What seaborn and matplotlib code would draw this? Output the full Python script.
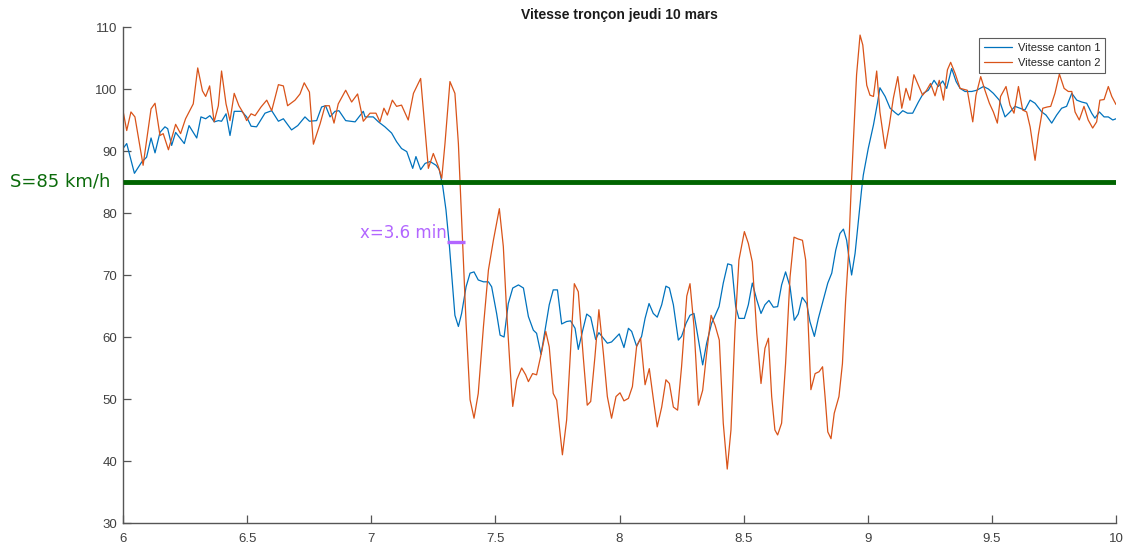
import pandas as pd
import numpy as np
import matplotlib
matplotlib.use("Agg")
import matplotlib.pyplot as plt
import seaborn as sns
from matplotlib.lines import Line2D

# ==============================
# Data
# ==============================
t1 = [6.000, 6.015, 6.046, 6.075, 6.095, 6.113, 6.129, 6.149, 6.169, 6.180,
      6.196, 6.212, 6.247, 6.266, 6.297, 6.314, 6.333, 6.350, 6.368, 6.384,
      6.397, 6.415, 6.431, 6.448, 6.478, 6.498, 6.516, 6.538, 6.572, 6.599,
      6.626, 6.646, 6.679, 6.704, 6.733, 6.751, 6.780, 6.800, 6.816, 6.834,
      6.854, 6.870, 6.897, 6.935, 6.968, 6.975, 7.008, 7.029, 7.055, 7.082,
      7.102, 7.122, 7.143, 7.167, 7.180, 7.199, 7.217, 7.237, 7.261, 7.274,
      7.288, 7.301, 7.315, 7.328, 7.337, 7.351, 7.364, 7.382, 7.398, 7.414,
      7.431, 7.452, 7.472, 7.485, 7.505, 7.519, 7.535, 7.552, 7.570, 7.593,
      7.613, 7.633, 7.653, 7.666, 7.684, 7.700, 7.717, 7.733, 7.750, 7.767,
      7.787, 7.803, 7.821, 7.834, 7.852, 7.868, 7.884, 7.904, 7.917, 7.935,
      7.951, 7.968, 7.999, 8.018, 8.036, 8.049, 8.069, 8.089, 8.103, 8.119,
      8.136, 8.152, 8.170, 8.187, 8.201, 8.217, 8.237, 8.250, 8.268, 8.284,
      8.300, 8.318, 8.335, 8.351, 8.371, 8.389, 8.401, 8.418, 8.436, 8.452,
      8.468, 8.481, 8.503, 8.519, 8.535, 8.553, 8.570, 8.586, 8.602, 8.620,
      8.637, 8.653, 8.669, 8.687, 8.704, 8.720, 8.736, 8.754, 8.767, 8.785,
      8.801, 8.821, 8.839, 8.855, 8.871, 8.888, 8.902, 8.915, 8.922, 8.935,
      8.949, 8.962, 8.975, 8.982, 9.002, 9.023, 9.039, 9.049, 9.070, 9.090,
      9.110, 9.123, 9.141, 9.160, 9.181, 9.204, 9.224, 9.244, 9.267, 9.284,
      9.302, 9.318, 9.338, 9.356, 9.372, 9.392, 9.419, 9.439, 9.466, 9.486,
      9.506, 9.530, 9.553, 9.573, 9.593, 9.613, 9.633, 9.654, 9.674, 9.701,
      9.718, 9.741, 9.761, 9.781, 9.801, 9.822, 9.842, 9.862, 9.882, 9.902,
      9.915, 9.933, 9.952, 9.969, 9.987, 10.000]
v1 = [90.4, 91.2, 86.4, 88.2, 89.0, 92.1, 89.7, 93.0, 93.9, 93.6,
      90.9, 93.0, 91.2, 94.1, 92.1, 95.5, 95.2, 95.7, 94.7, 94.9,
      94.8, 96.0, 92.5, 96.4, 96.4, 95.5, 94.0, 93.9, 96.1, 96.5,
      94.8, 95.2, 93.4, 94.1, 95.5, 94.8, 94.9, 97.1, 97.3, 95.5,
      96.4, 96.5, 94.9, 94.7, 96.4, 95.5, 95.5, 94.7, 93.9, 92.9,
      91.5, 90.4, 89.9, 87.2, 89.1, 87.0, 88.0, 88.3, 87.7, 87.0,
      84.3, 80.5, 74.6, 68.1, 63.5, 61.7, 63.8, 68.1, 70.3, 70.5,
      69.2, 68.9, 68.9, 68.1, 63.8, 60.3, 60.0, 65.4, 67.9, 68.4,
      67.9, 63.3, 61.1, 60.6, 57.2, 61.1, 65.2, 67.6, 67.6, 62.1,
      62.5, 62.6, 61.4, 58.0, 61.1, 63.7, 63.2, 59.6, 60.7, 59.8,
      59.0, 59.2, 60.5, 58.3, 61.4, 60.9, 58.5, 60.1, 63.0, 65.4,
      63.8, 63.2, 65.2, 68.2, 67.9, 65.2, 59.5, 60.1, 62.2, 63.5,
      63.8, 59.5, 55.5, 59.0, 62.2, 63.8, 64.9, 68.7, 71.8, 71.6,
      64.9, 63.0, 63.0, 65.2, 68.7, 66.0, 63.8, 65.2, 65.9, 64.8,
      64.9, 68.4, 70.5, 68.1, 62.7, 63.7, 66.4, 65.4, 62.5, 60.1,
      63.0, 66.0, 68.7, 70.3, 74.0, 76.7, 77.4, 75.6, 73.5, 70.0,
      73.5, 78.6, 83.7, 86.1, 90.4, 94.2, 97.7, 100.2, 98.8, 96.9,
      96.2, 95.8, 96.5, 96.1, 96.1, 97.9, 99.3, 99.8, 101.4, 100.4,
      101.3, 100.1, 103.3, 101.2, 100.1, 99.6, 99.6, 99.8, 100.4, 100.0,
      99.3, 98.2, 95.5, 96.3, 97.2, 96.9, 96.6, 98.2, 97.7, 96.3,
      95.8, 94.5, 95.8, 96.9, 97.2, 99.3, 98.2, 97.9, 97.7, 96.1,
      95.3, 96.3, 95.5, 95.5, 95.0, 95.2]

t2 = [6.000, 6.015, 6.032, 6.048, 6.081, 6.113, 6.129, 6.149, 6.162, 6.183,
      6.212, 6.232, 6.252, 6.283, 6.301, 6.320, 6.333, 6.349, 6.367, 6.384,
      6.397, 6.415, 6.431, 6.448, 6.467, 6.485, 6.498, 6.516, 6.532, 6.556,
      6.579, 6.599, 6.626, 6.646, 6.663, 6.693, 6.713, 6.730, 6.751, 6.767,
      6.794, 6.814, 6.831, 6.850, 6.867, 6.897, 6.921, 6.945, 6.968, 6.995,
      7.019, 7.035, 7.051, 7.065, 7.085, 7.102, 7.122, 7.149, 7.170, 7.199,
      7.230, 7.250, 7.270, 7.284, 7.297, 7.317, 7.337, 7.351, 7.364, 7.382,
      7.398, 7.414, 7.431, 7.452, 7.472, 7.492, 7.516, 7.532, 7.545, 7.559,
      7.570, 7.586, 7.606, 7.622, 7.633, 7.650, 7.666, 7.682, 7.703, 7.717,
      7.733, 7.747, 7.758, 7.770, 7.787, 7.803, 7.818, 7.834, 7.854, 7.870,
      7.884, 7.901, 7.917, 7.935, 7.951, 7.968, 7.986, 8.002, 8.018, 8.036,
      8.052, 8.069, 8.085, 8.103, 8.120, 8.136, 8.152, 8.170, 8.187, 8.201,
      8.217, 8.234, 8.250, 8.271, 8.284, 8.300, 8.318, 8.335, 8.351, 8.369,
      8.385, 8.402, 8.418, 8.434, 8.449, 8.465, 8.481, 8.503, 8.519, 8.535,
      8.553, 8.570, 8.586, 8.600, 8.613, 8.626, 8.637, 8.653, 8.669, 8.687,
      8.703, 8.720, 8.737, 8.750, 8.761, 8.771, 8.788, 8.804, 8.818, 8.828,
      8.839, 8.852, 8.865, 8.884, 8.898, 8.911, 8.922, 8.933, 8.942, 8.955,
      8.969, 8.980, 8.996, 9.009, 9.023, 9.036, 9.049, 9.070, 9.087, 9.103,
      9.121, 9.137, 9.154, 9.170, 9.186, 9.204, 9.221, 9.237, 9.253, 9.271,
      9.288, 9.305, 9.321, 9.334, 9.352, 9.372, 9.401, 9.423, 9.436, 9.455,
      9.472, 9.490, 9.506, 9.522, 9.535, 9.557, 9.573, 9.589, 9.607, 9.624,
      9.640, 9.654, 9.664, 9.674, 9.687, 9.705, 9.723, 9.737, 9.754, 9.772,
      9.791, 9.808, 9.822, 9.835, 9.852, 9.871, 9.888, 9.906, 9.922, 9.935,
      9.952, 9.969, 9.983, 10.000]
v2 = [96.5, 93.3, 96.3, 95.5, 87.7, 96.8, 97.7, 92.5, 92.8, 90.2,
      94.3, 92.8, 95.2, 97.6, 103.4, 99.7, 98.8, 100.5, 94.7, 97.3,
      102.9, 97.6, 94.9, 99.3, 97.3, 96.1, 94.9, 96.0, 95.7, 97.1,
      98.2, 96.5, 100.7, 100.5, 97.3, 98.2, 99.2, 101.0, 99.5, 91.1,
      94.4, 97.3, 97.3, 94.5, 97.6, 99.8, 97.9, 99.2, 94.8, 96.1,
      96.1, 94.7, 96.9, 95.8, 98.2, 97.2, 97.4, 95.0, 99.3, 101.7,
      87.2, 89.6, 87.5, 85.6, 91.2, 101.2, 99.3, 91.2, 78.9, 62.2,
      49.9, 46.9, 50.9, 61.7, 70.8, 75.6, 80.7, 74.6, 64.4, 55.2,
      48.8, 53.1, 55.0, 53.9, 52.8, 54.1, 53.9, 56.8, 60.9, 58.4,
      50.9, 49.8, 45.5, 41.0, 46.6, 57.9, 68.6, 67.3, 56.8, 49.0,
      49.6, 56.8, 64.4, 57.4, 50.4, 46.9, 50.4, 51.0, 49.7, 50.1,
      52.0, 58.5, 59.8, 52.3, 54.9, 50.1, 45.5, 48.7, 53.1, 52.5,
      48.7, 48.2, 55.2, 66.6, 68.6, 61.7, 49.0, 51.4, 57.4, 63.5,
      61.9, 59.5, 46.1, 38.7, 45.0, 61.1, 72.4, 77.0, 75.1, 72.1,
      60.6, 52.5, 58.2, 59.8, 50.4, 45.0, 44.2, 46.1, 55.7, 69.7,
      76.1, 75.8, 75.6, 72.4, 61.1, 51.5, 54.1, 54.4, 55.2, 50.4,
      44.7, 43.6, 47.7, 50.4, 55.7, 66.0, 73.0, 83.7, 91.5, 102.3,
      108.7, 107.1, 100.6, 99.0, 98.8, 102.9, 96.3, 90.4, 94.2, 98.5,
      102.0, 96.9, 100.1, 98.2, 102.3, 100.6, 99.0, 99.8, 100.9, 98.9,
      101.4, 98.2, 103.1, 104.3, 102.5, 100.1, 99.8, 94.7, 99.0, 102.0,
      99.8, 97.7, 96.3, 94.5, 98.8, 100.4, 97.4, 96.1, 100.4, 96.6,
      96.3, 93.9, 91.2, 88.5, 92.6, 96.9, 97.1, 97.2, 99.3, 102.4,
      100.1, 99.6, 99.6, 96.3, 95.0, 97.2, 95.0, 93.7, 94.7, 98.2,
      98.3, 100.4, 98.8, 97.5]

series_names = ["Vitesse canton 1", "Vitesse canton 2"]
series_colors = ["#0072BD", "#D95319"]

threshold = 85
threshold_label = "S=85 km/h"
delay_label = "x=3.6 min"
delay_y = 75.4
delay_span = [7.307, 7.378]

df = pd.concat([
    pd.DataFrame({"t": t1, "v": v1, "serie": series_names[0]}),
    pd.DataFrame({"t": t2, "v": v2, "serie": series_names[1]}),
])

# ==============================
# Plot
# ==============================
sns.set_style("ticks")
plt.rcParams["font.family"] = ["Liberation Sans", "DejaVu Sans"]

fig = plt.figure(figsize=(11.29, 5.48), dpi=100)
ax = fig.add_axes([123 / 1129, 25 / 548, 993 / 1129, 496 / 548])

sns.lineplot(data=df, x="t", y="v", hue="serie", palette=series_colors,
             estimator=None, sort=False, linewidth=0.9, ax=ax, legend=False)

# threshold line
ax.plot([6, 10], [threshold, threshold], color="#006400", linewidth=3.5,
        solid_capstyle="butt", zorder=5)
ax.text(-0.1138, threshold, threshold_label, transform=ax.get_yaxis_transform(),
        ha="left", va="center", fontsize=13, color="#0b6b0b",
        family="DejaVu Sans", clip_on=False)

# delay marker
ax.plot(delay_span, [delay_y, delay_y], color="#b266ff", linewidth=2.4,
        solid_capstyle="butt", zorder=5)
ax.text(delay_span[0] - 0.003, delay_y + 1.3, delay_label, ha="right", va="center",
        fontsize=12, color="#b266ff", family="DejaVu Sans")

ax.set_xlim(6, 10)
ax.set_ylim(30, 110)
ax.set_xticks(np.arange(6, 10.01, 0.5))
ax.set_xticklabels(["6", "6.5", "7", "7.5", "8", "8.5", "9", "9.5", "10"])
ax.set_yticks(np.arange(30, 111, 10))
ax.set_xlabel("")
ax.set_ylabel("")
ax.set_title("Vitesse tronçon jeudi 10 mars", fontsize=10, fontweight="bold",
             color="#1a1a1a", pad=6)

sns.despine(ax=ax)
for side in ["left", "bottom"]:
    ax.spines[side].set_color("#555555")
    ax.spines[side].set_linewidth(1.0)
ax.tick_params(direction="in", length=6, width=0.9, color="#555555",
               labelsize=9.5, labelcolor="#404040")
ax.tick_params(axis="x", pad=7)
ax.tick_params(axis="y", pad=4)

handles = [Line2D([], [], color=c, linewidth=0.9) for c in series_colors]
leg = ax.legend(handles, series_names, loc="upper right",
                bbox_to_anchor=(0.989, 0.978), fontsize=8, fancybox=False,
                frameon=True, handlelength=2.5, borderpad=0.45,
                labelspacing=0.45, handletextpad=0.5, borderaxespad=0)
leg.get_frame().set_edgecolor("#333333")
leg.get_frame().set_linewidth(0.8)

fig.savefig("out.png", dpi=100)
